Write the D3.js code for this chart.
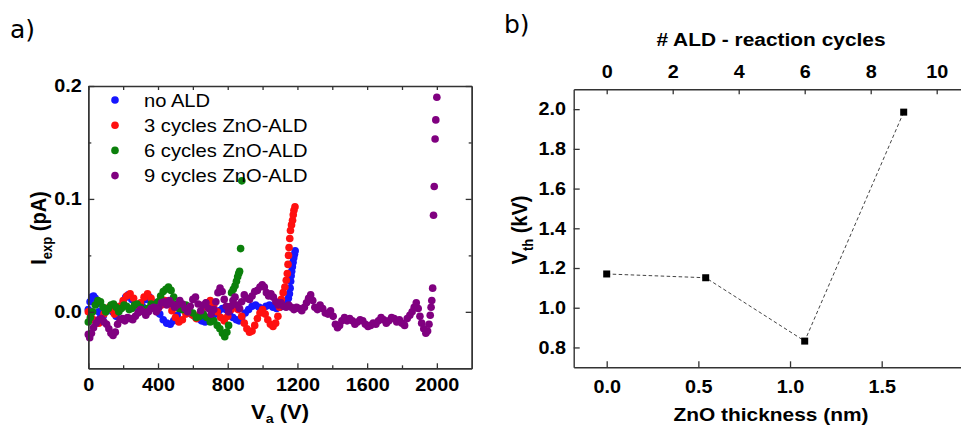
<!DOCTYPE html>
<html>
<head>
<meta charset="utf-8">
<script src="https://cdn.jsdelivr.net/npm/d3@7"></script>
<style>
  body { margin: 0; background: #fff; }
  svg { display: block; font-family: "Liberation Sans", Arial, sans-serif; }
</style>
</head>
<body>
<svg id="chart" width="961" height="431"></svg>
<script>
// ---------- data: panel a (V_a in V, I_exp in pA) ----------
const noALD = [[0,0.002],[10,0.009],[20,0.013],[30,0.014],[40,0.012],[50,0.007],[60,0.0],[70,-0.005],[85,-0.004],[100,0.0],[120,0.003],[140,0.0],[160,-0.004],[180,0.002],[200,0.008],[215,0.013],[230,0.015],[250,0.011],[270,0.006],[290,0.002],[310,0.005],[330,0.011],[350,0.013],[370,0.008],[390,0.003],[410,-0.002],[430,-0.007],[450,-0.01],[470,-0.011],[490,-0.008],[510,-0.003],[530,0.002],[550,0.004],[570,0.001],[590,-0.002],[610,-0.004],[630,-0.006],[650,-0.008],[670,-0.009],[690,-0.007],[710,-0.004],[730,-0.002],[750,0.001],[770,0.003],[790,0.002],[810,-0.002],[830,-0.005],[850,-0.007],[865,-0.008],[880,-0.005],[900,-0.001],[920,0.002],[940,0.005],[960,0.006],[980,0.004],[1000,0.003],[1020,0.005],[1040,0.006],[1060,0.004],[1080,0.003],[1100,0.004],[1115,0.006],[1130,0.008],[1140,0.009],[1148,0.012],[1154,0.016],[1158,0.021],[1161,0.027],[1164,0.032],[1167,0.036],[1171,0.04],[1175,0.044],[1179,0.048],[1183,0.051],[1187,0.054]];

const cycles3 = [[0,0.0],[15,-0.004],[30,-0.007],[45,-0.009],[60,-0.01],[75,-0.007],[90,-0.002],[105,0.002],[120,0.004],[135,0.002],[150,-0.002],[165,0.001],[180,0.005],[200,0.01],[220,0.014],[240,0.016],[260,0.012],[280,0.006],[300,0.008],[320,0.013],[340,0.016],[360,0.012],[380,0.006],[400,0.003],[420,0.006],[440,0.01],[460,0.007],[480,0.001],[500,-0.005],[520,-0.009],[540,-0.007],[560,-0.002],[580,0.0],[600,-0.003],[620,-0.006],[640,-0.002],[660,0.004],[680,0.008],[700,0.01],[720,0.006],[740,0.0],[760,-0.005],[780,-0.008],[800,-0.004],[820,0.002],[840,0.006],[860,0.002],[880,-0.004],[895,-0.01],[910,-0.015],[925,-0.018],[940,-0.017],[955,-0.012],[970,-0.006],[985,-0.001],[1000,0.002],[1015,-0.002],[1030,-0.007],[1045,-0.011],[1060,-0.013],[1075,-0.01],[1088,-0.004],[1098,0.004],[1108,0.011],[1118,0.017],[1128,0.022],[1136,0.028],[1142,0.034],[1146,0.042],[1149,0.05],[1152,0.057],[1156,0.065],[1160,0.072],[1166,0.077],[1172,0.081],[1176,0.086],[1180,0.09],[1186,0.093]];

const cycles6 = [[0,-0.009],[12,-0.005],[25,0.0],[40,0.006],[55,0.01],[70,0.009],[85,0.004],[100,0.0],[115,0.003],[130,0.006],[145,0.007],[160,0.004],[175,0.0],[190,0.003],[205,0.006],[220,0.005],[235,0.002],[250,0.003],[265,0.006],[280,0.007],[300,0.004],[320,0.0],[340,0.003],[360,0.007],[380,0.006],[400,0.009],[415,0.014],[430,0.018],[445,0.02],[460,0.022],[475,0.019],[490,0.013],[505,0.007],[520,0.003],[540,0.002],[560,0.006],[580,0.004],[600,-0.001],[620,-0.005],[640,-0.004],[660,-0.002],[680,-0.005],[700,-0.009],[720,-0.008],[740,-0.012],[755,-0.015],[770,-0.019],[783,-0.022],[795,-0.018],[805,-0.012],[822,0.017],[832,0.02],[842,0.023],[850,0.027],[857,0.031],[863,0.034],[868,0.036],[874,0.056],[881,0.116]];

const cycles9 = [[0,-0.02],[8,-0.023],[18,-0.019],[30,-0.014],[45,-0.01],[60,-0.007],[75,-0.006],[90,-0.009],[105,-0.011],[118,-0.015],[130,-0.019],[142,-0.021],[155,-0.018],[168,-0.011],[182,-0.007],[196,-0.006],[210,-0.008],[225,-0.005],[240,-0.006],[255,-0.007],[270,-0.004],[285,-0.001],[300,0.002],[315,0.0],[330,-0.003],[345,0.0],[360,0.003],[375,0.004],[390,0.0],[405,0.004],[420,0.008],[435,0.009],[450,0.006],[465,0.01],[480,0.007],[495,0.004],[510,0.006],[525,0.01],[540,0.007],[555,0.003],[570,0.0],[585,0.005],[600,0.011],[615,0.013],[630,0.007],[645,0.001],[660,0.006],[675,0.008],[690,0.003],[705,-0.002],[720,0.002],[732,0.009],[744,0.017],[756,0.021],[768,0.018],[780,0.011],[792,0.005],[805,0.0],[818,0.005],[830,0.01],[842,0.013],[855,0.006],[868,0.003],[880,0.009],[895,0.015],[910,0.012],[925,0.011],[940,0.014],[955,0.018],[970,0.019],[985,0.022],[998,0.024],[1010,0.022],[1022,0.017],[1035,0.014],[1048,0.016],[1062,0.013],[1076,0.009],[1090,0.006],[1105,0.008],[1120,0.005],[1135,0.004],[1150,0.006],[1165,0.004],[1180,0.002],[1195,0.004],[1210,0.003],[1225,0.001],[1240,0.004],[1252,0.008],[1264,0.012],[1276,0.015],[1288,0.01],[1300,0.004],[1315,0.002],[1330,0.006],[1345,0.003],[1360,-0.001],[1375,-0.002],[1390,0.001],[1405,-0.004],[1418,-0.011],[1430,-0.014],[1442,-0.012],[1455,-0.008],[1470,-0.005],[1485,-0.008],[1500,-0.006],[1515,-0.008],[1530,-0.011],[1545,-0.009],[1560,-0.007],[1575,-0.008],[1590,-0.011],[1605,-0.013],[1620,-0.012],[1635,-0.01],[1650,-0.011],[1665,-0.008],[1680,-0.005],[1695,-0.007],[1710,-0.01],[1725,-0.008],[1740,-0.005],[1755,-0.006],[1770,-0.009],[1785,-0.007],[1800,-0.01],[1815,-0.012],[1830,-0.006],[1845,-0.003],[1858,0.0],[1870,0.004],[1882,0.008],[1893,0.003],[1903,-0.004],[1913,-0.01],[1925,-0.015],[1937,-0.019],[1947,-0.017],[1955,-0.011],[1962,-0.003],[1967,0.004],[1971,0.01],[1976,0.021],[1981,0.0855],[1985,0.111],[1990,0.153],[1994,0.17],[2000,0.19]];

const seriesNames = ["no ALD", "3 cycles ZnO-ALD", "6 cycles ZnO-ALD", "9 cycles ZnO-ALD"];
const seriesColors = ["#1616ff", "#ff1010", "#0b800b", "#800080"];

const aXTicks = [0, 400, 800, 1200, 1600, 2000];
const aXMinor = [200, 600, 1000, 1400, 1800];
const aYTicks = [0, 0.1, 0.2];
const aYMinor = [0.05, 0.15];

// ---------- data: panel b ----------
const aldCycles = [0, 3, 6, 9];
const znoThickness = [0, 0.54, 1.08, 1.62];
const vth = [1.17, 1.151, 0.832, 1.985];

const bTopTicks = [0, 2, 4, 6, 8, 10];
const bBottomTicks = [0, 0.5, 1.0, 1.5];
const bYTicks = [0.8, 1.0, 1.2, 1.4, 1.6, 1.8, 2.0];

const AXIS = "#333";
const SX = 1.1; // the source picture is a bit stretched horizontally

const svg = d3.select("#chart");

function styleAxis(g, labelSize) {
  g.select(".domain").attr("stroke", AXIS).attr("stroke-width", 1.4);
  g.selectAll(".tick line").attr("stroke", AXIS).attr("stroke-width", 1.3);
  g.selectAll(".tick text")
    .attr("fill", "#000")
    .attr("font-size", labelSize)
    .attr("font-weight", "bold")
    .attr("font-family", "'Liberation Sans', Arial, sans-serif")
    .attr("transform", `scale(${SX},1)`);
  return g;
}

function addAxis(axis, tx, ty, labelSize = 18) {
  const g = svg.append("g").attr("transform", `translate(${tx},${ty})`).call(axis);
  return styleAxis(g, labelSize);
}

// text helper: pieces = [[str, size, dy]]
function label(x, y, pieces, opts = {}) {
  const g = svg.append("g")
    .attr("transform", `translate(${x},${y})` + (opts.rotate ? ` scale(${SX},1) rotate(-90)` : ` scale(${opts.sx || SX},1)`));
  const t = g.append("text")
    .attr("text-anchor", opts.anchor || "middle")
    .attr("font-weight", opts.weight || "bold")
    .attr("font-family", opts.family || "'Liberation Sans', Arial, sans-serif")
    .attr("fill", "#000");
  pieces.forEach(([s, size, dy]) => {
    t.append("tspan").attr("font-size", size).attr("dy", dy || 0).text(s);
  });
  return t;
}

// ---------- Panel a ----------
const xA = d3.scaleLinear().domain([0, 2200]).range([88.3, 471.7]);
const yA = d3.scaleLinear().domain([-0.05, 0.2]).range([368.3, 86]);

const series = [noALD, cycles3, cycles6, cycles9];
series.forEach((pts, i) => {
  svg.append("g")
    .selectAll("circle")
    .data(pts)
    .enter()
    .append("circle")
    .attr("cx", (d) => xA(d[0]))
    .attr("cy", (d) => yA(d[1]))
    .attr("r", 3.8)
    .attr("fill", seriesColors[i]);
});

// frame + ticks
addAxis(d3.axisBottom(xA).tickValues(aXTicks).tickFormat(d3.format("d"))
  .tickSizeInner(-5).tickSizeOuter(0).tickPadding(10), 0, yA.range()[0]);
addAxis(d3.axisBottom(xA).tickValues(aXMinor).tickFormat("")
  .tickSizeInner(-3).tickSizeOuter(0), 0, yA.range()[0]);
addAxis(d3.axisTop(xA).tickValues(aXTicks.concat(aXMinor)).tickFormat("")
  .tickSizeInner(-4).tickSizeOuter(0), 0, yA.range()[1]);
addAxis(d3.axisLeft(yA).tickValues(aYTicks).tickFormat(d3.format(".1f"))
  .tickSizeInner(-6).tickSizeOuter(0).tickPadding(6), xA.range()[0], 0);
addAxis(d3.axisLeft(yA).tickValues(aYMinor).tickFormat("")
  .tickSizeInner(-3).tickSizeOuter(0), xA.range()[0], 0);
addAxis(d3.axisRight(yA).tickValues(aYTicks).tickFormat("")
  .tickSizeInner(-6).tickSizeOuter(0), xA.range()[1], 0);
addAxis(d3.axisRight(yA).tickValues(aYMinor).tickFormat("")
  .tickSizeInner(-3).tickSizeOuter(0), xA.range()[1], 0);

// legend
const legend = svg.append("g");
seriesNames.forEach((name, i) => {
  const ly = 100 + i * 25.2;
  legend.append("circle").attr("cx", 115).attr("cy", ly).attr("r", 3.8).attr("fill", seriesColors[i]);
  legend.append("g").attr("transform", `translate(144,${ly + 6.5}) scale(1.12,1)`)
    .append("text").attr("font-size", 18).attr("fill", "#000").text(name);
});

// axis titles
label(280, 419, [["V", 20], ["a", 13, 4], [" (V)", 20, -4]]);
label(46, 228, [["I", 20], ["exp", 13, 5], [" (pA)", 20, -5]], { rotate: true });
label(10, 38, [["a)", 25]], { anchor: "start", weight: "normal", family: "'DejaVu Sans', sans-serif", sx: 1 });

// ---------- Panel b ----------
const xCyc = d3.scaleLinear().domain([-1, 11]).range([573.7, 969.7]);
const xB = d3.scaleLinear().domain([-0.18, 1.98]).range([573.7, 969.7]);
const yB = d3.scaleLinear().domain([0.7, 2.1]).range([367.3, 89.3]);

addAxis(d3.axisTop(xCyc).tickValues(bTopTicks).tickFormat(d3.format("d"))
  .tickSizeInner(-5).tickSizeOuter(0).tickPadding(11), 0, yB.range()[1]);
addAxis(d3.axisBottom(xB).tickValues(bBottomTicks).tickFormat(d3.format(".1f"))
  .tickSizeInner(-6).tickSizeOuter(0).tickPadding(13), 0, yB.range()[0]);
addAxis(d3.axisLeft(yB).tickValues(bYTicks).tickFormat(d3.format(".1f"))
  .tickSizeInner(-6).tickSizeOuter(0).tickPadding(7), xB.range()[0], 0);

const bPts = znoThickness.map((t, i) => ({ t, c: aldCycles[i], v: vth[i] }));

svg.append("path")
  .datum(bPts)
  .attr("fill", "none")
  .attr("stroke", "#444")
  .attr("stroke-width", 1)
  .attr("stroke-dasharray", "3.5,2.5")
  .attr("d", d3.line().x((d) => xB(d.t)).y((d) => yB(d.v)));

svg.append("g")
  .selectAll("rect")
  .data(bPts)
  .enter()
  .append("rect")
  .attr("x", (d) => xB(d.t) - 3.5)
  .attr("y", (d) => yB(d.v) - 3.5)
  .attr("width", 7)
  .attr("height", 7)
  .attr("fill", "#000");

label(771, 46, [["# ALD - reaction cycles", 19]]);
label(771, 421, [["ZnO thickness (nm)", 19]]);
label(527, 230, [["V", 20], ["th", 13, 5], [" (kV)", 20, -5]], { rotate: true });
label(504, 33, [["b)", 25]], { anchor: "start", weight: "normal", family: "'DejaVu Sans', sans-serif", sx: 1 });
</script>
</body>
</html>
